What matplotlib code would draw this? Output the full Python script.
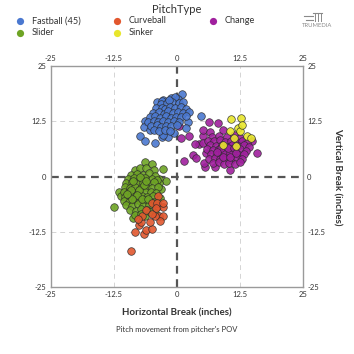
import matplotlib
matplotlib.use("Agg")
import matplotlib.pyplot as plt
from matplotlib.lines import Line2D
import numpy as np

plt.rcParams['font.family'] = ['Lato', 'DejaVu Sans']

# pitch movement in inches (horizontal, vertical)
fastball = [(-7.2, 9.2), (-6.3, 7.9), (-4.4, 7.6), (-3.0, 8.9), (-1.7, 9.0), (-6.2, 12.6),
            (-6.5, 11.1), (-5.3, 10.5), (-3.9, 16.9), (-2.7, 17.3), (1.0, 18.6), (2.2, 12.4),
            (4.75, 13.7), (-2.7, 9.4), (1.8, 11.0), (-0.5, 9.8),
            (-1.2, 17.6), (0.2, 17.4), (-0.4, 18.0), (-2.9, 17.0),
            (-3.2, 16.3), (-2.0, 16.6), (-0.9, 16.7), (0.4, 16.5), (1.3, 16.8), (-1.6, 17.2),
            (-4.1, 15.4), (-3.0, 15.5), (-2.3, 15.2), (-1.3, 15.6), (-0.3, 15.4), (0.8, 15.7), (1.9, 15.3),
            (-4.8, 14.3), (-3.6, 14.6), (-2.6, 14.2), (-1.8, 14.7), (-0.8, 14.4), (0.2, 14.6), (1.2, 14.3), (2.4, 14.5),
            (-5.3, 13.4), (-4.3, 13.6), (-3.3, 13.3), (-2.2, 13.6), (-1.2, 13.2), (-0.2, 13.5), (0.9, 13.4), (1.9, 13.7),
            (-5.6, 12.3), (-4.6, 12.6), (-3.7, 12.2), (-2.8, 12.5), (-1.7, 12.3), (-0.6, 12.6), (0.5, 12.2),
            (-5.1, 11.4), (-4.0, 11.6), (-3.1, 11.2), (-2.2, 11.5), (-1.1, 11.3), (0.0, 11.6),
            (-4.6, 10.4), (-3.6, 10.2), (-2.4, 10.6), (-1.4, 10.3)]

change = [(6.3, 12.2), (8.1, 12.1), (0.8, 8.8), (2.4, 9.2), (1.4, 3.4), (3.2, 4.9), (3.9, 4.1),
          (15.8, 5.4), (14.8, 7.9), (10.5, 1.5), (7.5, 2.2), (5.5, 2.2), (5.1, 9.2), (5.2, 10.5),
          (6.5, 10.1), (9.2, 10.5), (0.5, 11.5), (4.4, 7.4), (5.2, 7.5), (5.7, 5.3), (5.4, 3.0), (3.6, 7.4),
          (7.0, 9.0), (8.4, 9.2), (10.0, 8.9), (11.3, 9.3), (12.6, 8.6),
          (6.2, 8.1), (7.4, 7.9), (8.6, 8.2), (9.6, 7.8), (10.7, 8.1), (11.8, 7.7), (13.0, 8.0), (14.0, 7.6),
          (6.6, 7.0), (7.8, 6.8), (8.9, 7.1), (9.9, 6.7), (11.0, 7.0), (12.2, 6.8), (13.3, 7.1), (14.3, 6.6),
          (6.0, 6.1), (7.1, 5.9), (8.3, 6.2), (9.3, 5.8), (10.4, 6.1), (11.5, 5.9), (12.6, 6.2), (13.7, 5.8),
          (6.8, 5.0), (8.0, 4.9), (9.0, 5.2), (10.1, 4.8), (11.2, 5.1), (12.3, 4.8), (13.4, 5.1),
          (6.4, 4.0), (7.5, 4.2), (8.6, 3.9), (9.7, 4.1), (10.8, 3.8), (11.9, 4.2), (13.0, 3.9),
          (7.2, 3.0), (8.3, 3.2), (9.4, 2.9), (10.4, 3.1), (11.5, 2.8), (12.5, 3.3),
          (9.5, 5.5), (10.6, 5.4), (8.8, 6.5), (10.1, 6.4), (11.4, 6.4), (9.2, 4.4), (10.5, 4.5),
          (11.7, 5.3), (8.0, 5.6)]

sinker = [(10.8, 13.0), (12.7, 13.3), (10.6, 10.3), (12.1, 10.9), (12.5, 10.3), (13.9, 9.2),
          (14.6, 8.6), (11.8, 6.9), (11.3, 8.8), (12.9, 11.6), (9.2, 7.0)]

slider = [(-6.3, 3.2), (-5.0, 2.8), (-2.7, 1.7), (-2.2, -1.1), (-8.3, 1.4), (-11.4, -3.4),
          (-11.1, -4.5), (-12.4, -6.8), (-8.7, -9.4), (-4.4, -8.2), (-3.4, -4.9), (-3.6, -0.5),
          (-4.6, 1.5), (-7.2, 2.0), (-6.0, 2.0), (-3.2, -2.8), (-3.5, -1.5), (-4.4, -6.4),
          (-9.0, 0.4), (-7.8, 0.6), (-6.7, 0.3), (-5.5, 0.7), (-4.4, 0.2),
          (-9.6, -0.6), (-8.5, -0.4), (-7.3, -0.7), (-6.2, -0.3), (-5.0, -0.6), (-3.9, -0.8),
          (-10.0, -1.5), (-8.9, -1.3), (-7.8, -1.6), (-6.7, -1.4), (-5.6, -1.7), (-4.5, -1.3),
          (-10.3, -2.4), (-9.3, -2.6), (-8.2, -2.3), (-7.1, -2.7), (-6.0, -2.4), (-4.9, -2.6), (-3.8, -2.3),
          (-10.5, -3.6), (-9.5, -3.4), (-8.4, -3.7), (-7.4, -3.3), (-6.3, -3.6), (-5.2, -3.4), (-4.1, -3.7),
          (-10.2, -4.6), (-9.1, -4.3), (-8.0, -4.7), (-6.9, -4.4), (-5.8, -4.6), (-4.7, -4.4),
          (-10.4, -5.5), (-9.4, -5.7), (-8.3, -5.4), (-7.2, -5.6), (-6.1, -5.3), (-5.0, -5.7),
          (-10.0, -6.4), (-8.8, -6.6), (-7.7, -6.3), (-6.6, -6.7), (-5.5, -6.4),
          (-9.3, -7.5), (-8.1, -7.7), (-7.0, -7.4), (-5.9, -7.6),
          (-8.3, -8.6), (-7.1, -8.4), (-6.2, -8.8),
          (-8.6, -1.0), (-7.5, -3.0), (-6.4, -2.0), (-9.0, -3.0), (-7.9, -4.2), (-6.8, -5.0),
          (-8.8, -5.0), (-5.6, -5.0), (-9.9, -4.0), (-7.3, 0.0), (-6.0, -1.0), (-4.3, -5.8), (-5.3, -8.0)]

curveball = [(-9.1, -16.7), (-8.3, -12.5), (-6.5, -13.0), (-6.0, -12.0), (-5.0, -11.8), (-7.5, -11.0),
             (-7.0, -10.3), (-5.3, -10.3), (-6.9, -8.9), (-6.0, -7.5), (-5.0, -6.0), (-3.7, -6.6),
             (-2.7, -6.8), (-3.5, -8.9), (-2.7, -9.0), (-3.4, -10.1), (-4.4, -9.0), (-5.0, -8.4),
             (-3.8, -4.5), (-3.9, -6.0), (-2.7, -6.0), (-4.2, -7.2), (-7.6, -9.6)]

ticks = [-25, -12.5, 0, 12.5, 25]
tick_labels = ['-25', '-12.5', '0', '12.5', '25']

colors = {'Fastball (45)': '#4a78d0', 'Slider': '#6ea424', 'Curveball': '#e2572e',
          'Sinker': '#e8e62c', 'Change': '#a0209e'}

fig = plt.figure(figsize=(3.54, 3.54), dpi=100)
ax = fig.add_axes([0.1427, 0.1884, 0.7133, 0.626])

# grid and zero lines
for v in [-12.5, 12.5]:
    ax.axvline(v, color='#d4d4d4', lw=0.7, ls=(0, (5, 4)), zorder=0)
    ax.axhline(v, color='#d4d4d4', lw=0.7, ls=(0, (5, 4)), zorder=0)
ax.axvline(0, color='#555555', lw=1.6, ls=(0, (3.5, 2.5)), zorder=1)
ax.axhline(0, color='#555555', lw=1.6, ls=(0, (3.5, 2.5)), zorder=1)

order = [('Change', change), ('Fastball (45)', fastball), ('Slider', slider),
         ('Curveball', curveball), ('Sinker', sinker)]
for name, pts in order:
    arr = np.array(pts)
    ax.scatter(arr[:, 0], arr[:, 1], s=30, c=colors[name], edgecolors='#2b2b2b',
               linewidths=0.5, alpha=0.9, zorder=3)

ax.set_xlim(-25, 25)
ax.set_ylim(-25, 25)
ax.set_xticks(ticks)
ax.set_xticklabels(tick_labels)
ax.set_yticks(ticks)
ax.set_yticklabels(tick_labels)
ax.tick_params(axis='both', length=0, pad=3, labelsize=5.5, labelcolor='#333333',
               top=True, labeltop=True, right=True, labelright=True)
for sp in ax.spines.values():
    sp.set_color('#9a9a9a')
    sp.set_linewidth(1.0)

ax.set_xlabel('Horizontal Break (inches)', fontsize=7, fontweight='bold', color='#333333', labelpad=7)
ax.yaxis.set_label_position('right')
ax.set_ylabel('Vertical Break (inches)', fontsize=7, fontweight='bold', color='#333333',
              rotation=270, labelpad=12)
fig.text(0.5, 0.07, "Pitch movement from pitcher's POV", ha='center', va='center',
         fontsize=5.5, color='#333333')

# legend, laid out by hand in three columns
fig.text(0.5, 0.972, 'PitchType', ha='center', va='center', fontsize=8, color='#333333')
legend_cols = [0.0565, 0.3305, 0.6017]
legend_rows = [0.9415, 0.9076]
legend_order = [['Fastball (45)', 'Slider'], ['Curveball', 'Sinker'], ['Change']]
for cx, names in zip(legend_cols, legend_order):
    for ry, name in zip(legend_rows, names):
        fig.add_artist(Line2D([cx], [ry], ls='none', marker='o', ms=5.2,
                              mfc=colors[name], mec='none'))
        fig.text(cx + 0.034, ry, name, ha='left', va='center', fontsize=6.6, color='#333333')

# TruMedia logo
fig.text(0.895, 0.928, 'TRUMEDIA', ha='center', va='center', fontsize=4.2, color='#8a8a8a')
for yy, x0 in [(0.955, 0.858), (0.944, 0.865)]:
    fig.add_artist(Line2D([x0, 0.885], [yy, yy], color='#8a8a8a', lw=0.8))
fig.add_artist(Line2D([0.885, 0.91], [0.962, 0.962], color='#8a8a8a', lw=0.8))
for xx in [0.889, 0.897, 0.906]:
    fig.add_artist(Line2D([xx, xx], [0.962, 0.94], color='#8a8a8a', lw=0.7))

fig.savefig('out.png', dpi=100)
